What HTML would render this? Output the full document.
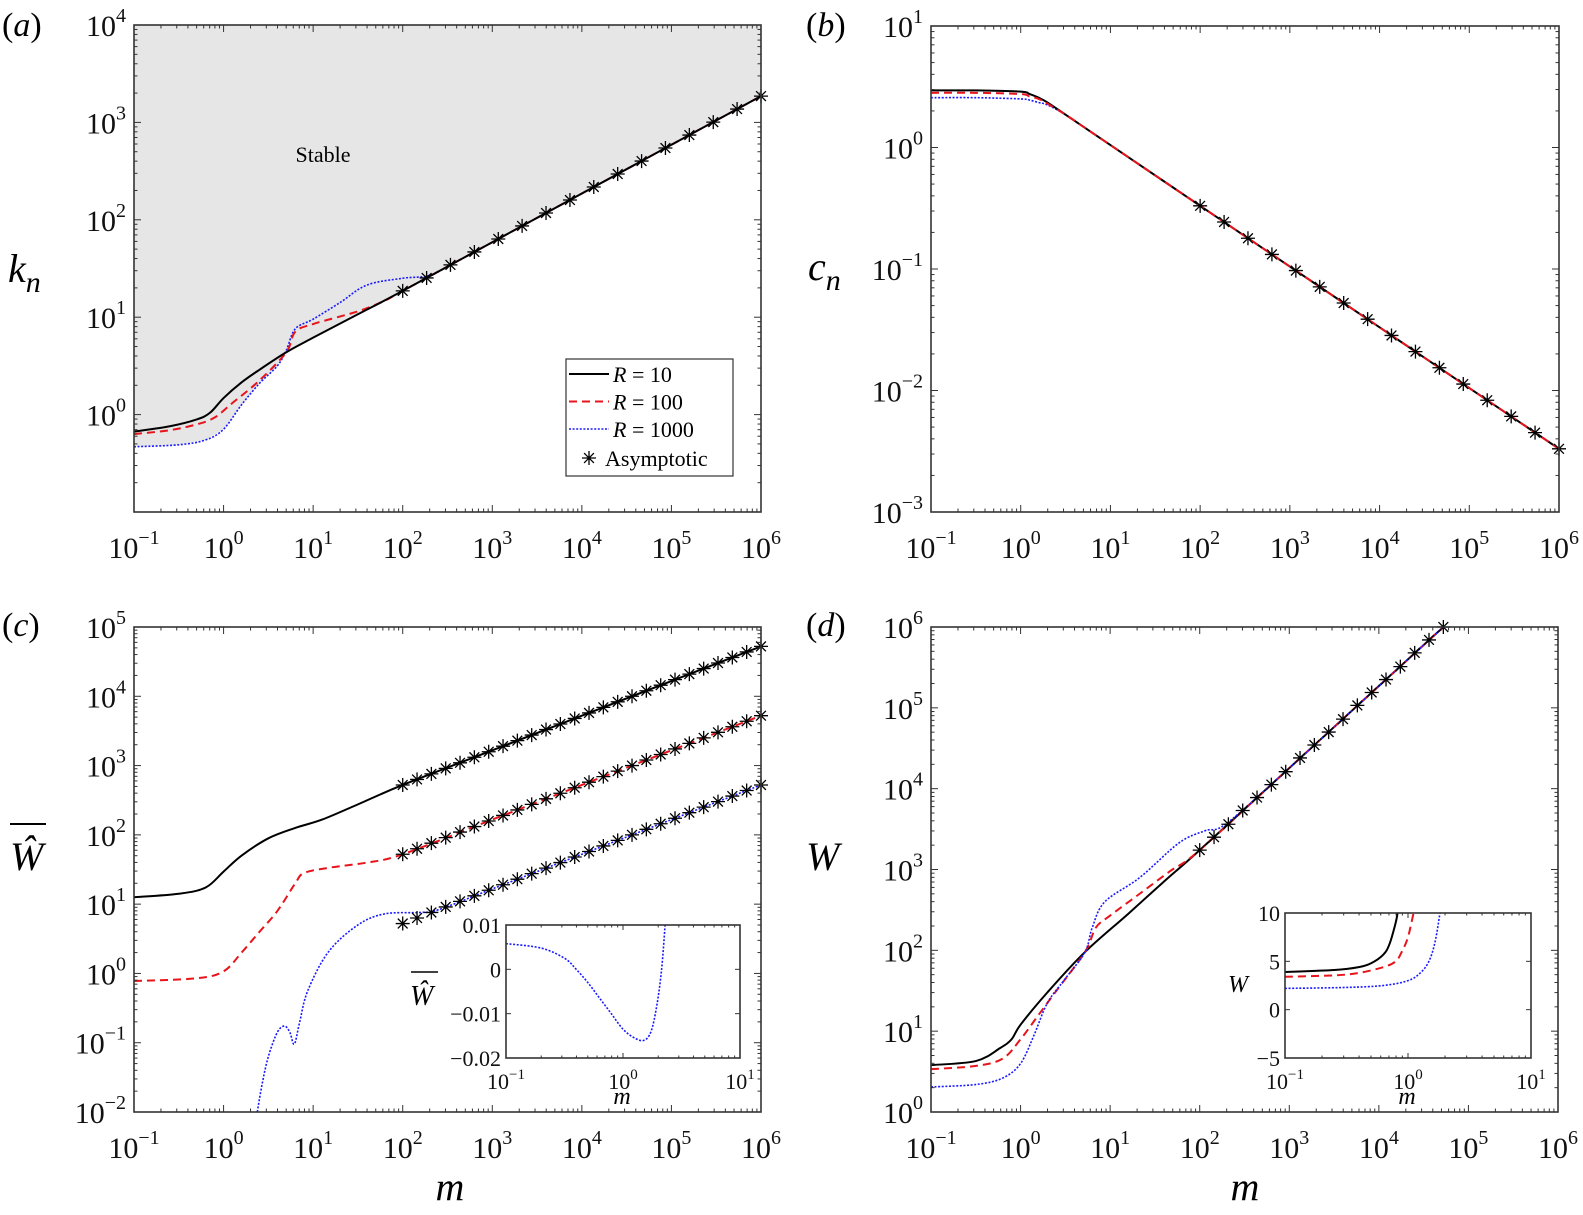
<!DOCTYPE html>
<html><head><meta charset="utf-8"><title>Stability figure</title>
<style>
html,body{margin:0;padding:0;background:#fff;}
svg, svg text{font-family:"Liberation Serif","Times New Roman",serif;}
</style></head>
<body>
<svg id="fig" width="1583" height="1210" viewBox="0 0 1583 1210" xmlns="http://www.w3.org/2000/svg" font-family="Liberation Serif, serif">
  <text x="2" y="36" font-size="34">(<tspan font-style="italic">a</tspan>)</text>
  <text x="806" y="36" font-size="34">(<tspan font-style="italic">b</tspan>)</text>
  <text x="2" y="636" font-size="34">(<tspan font-style="italic">c</tspan>)</text>
  <text x="806" y="636" font-size="34">(<tspan font-style="italic">d</tspan>)</text>

  <text x="8" y="282" font-size="40" font-style="italic">k<tspan font-size="30" dy="10">n</tspan></text>
  <text x="808" y="280" font-size="40" font-style="italic">c<tspan font-size="30" dy="10">n</tspan></text>
  <g>
    <text x="10" y="870" font-size="40" font-style="italic">Ŵ</text>
    <line x1="10" y1="824" x2="46" y2="824" stroke="#000" stroke-width="2"/>
  </g>
  <text x="806" y="870" font-size="40" font-style="italic">W</text>
  <text x="450" y="1200" font-size="40" font-style="italic" text-anchor="middle">m</text>
  <text x="1245" y="1200" font-size="40" font-style="italic" text-anchor="middle">m</text>
</svg>
<script>
// ---------------- DATA (log10 m, log10 value) ----------------
// Panel (a) k_n
const aR10x = [-1,-0.6,-0.3,-0.15,0,0.2,0.4,0.7,1,1.5,2,3,4,5,6];
const aR10y = [-0.175,-0.12,-0.05,0.02,0.17,0.33,0.46,0.64,0.79,1.03,1.27,1.77,2.27,2.77,3.27];
const aR100x = [-1,-0.6,-0.3,-0.1,0.1,0.4,0.7,0.8,1,1.5,1.8,2,3,4,5,6];
const aR100y = [-0.2,-0.16,-0.1,-0.03,0.12,0.35,0.64,0.85,0.93,1.06,1.17,1.27,1.77,2.27,2.77,3.27];
const aR1000x = [-1,-0.5,-0.2,0,0.2,0.4,0.6,0.7,0.8,1,1.3,1.6,2,2.3,2.6,3,4,5,6];
const aR1000y = [-0.33,-0.31,-0.26,-0.15,0.1,0.32,0.5,0.66,0.88,0.98,1.15,1.33,1.4,1.43,1.57,1.77,2.27,2.77,3.27];
const aStarX = [2,2.267,2.533,2.8,3.067,3.333,3.6,3.867,4.133,4.4,4.667,4.933,5.2,5.467,5.733,6];
const aStarY = [1.27,1.403,1.537,1.67,1.803,1.937,2.07,2.203,2.337,2.47,2.603,2.737,2.87,3.003,3.137,3.27];
// Panel (b) c_n
const bR10x = [-1,-0.5,0,0.1,0.2,0.3,0.5,0.7,1,2,3,4,5,6];
const bR10y = [0.47,0.47,0.46,0.44,0.41,0.37,0.27,0.17,0.02,-0.48,-0.98,-1.48,-1.98,-2.48];
const bR100x = [-1,-0.5,0,0.1,0.2,0.3,0.5,0.7,1,2,3,4,5,6];
const bR100y = [0.45,0.45,0.44,0.42,0.4,0.36,0.27,0.17,0.02,-0.48,-0.98,-1.48,-1.98,-2.48];
const bR1000x = [-1,-0.5,0,0.1,0.2,0.3,0.5,0.7,1,2,3,4,5,6];
const bR1000y = [0.41,0.41,0.4,0.39,0.37,0.35,0.27,0.17,0.02,-0.48,-0.98,-1.48,-1.98,-2.48];
const bStarX = [2,2.267,2.533,2.8,3.067,3.333,3.6,3.867,4.133,4.4,4.667,4.933,5.2,5.467,5.733,6];
const bStarY = [-0.48,-0.613,-0.747,-0.88,-1.013,-1.147,-1.28,-1.413,-1.547,-1.68,-1.813,-1.947,-2.08,-2.213,-2.347,-2.48];
// Panel (c) mean W-hat
const cR10x = [-1,-0.5,-0.2,0,0.2,0.5,0.8,1.1,1.5,2,3,4,5,6];
const cR10y = [1.1,1.15,1.24,1.47,1.7,1.95,2.1,2.22,2.44,2.72,3.22,3.72,4.22,4.72];
const cR100x = [-1,-0.3,0,0.2,0.4,0.6,0.8,0.9,1.2,1.6,2,3,4,5,6];
const cR100y = [-0.11,-0.07,0.03,0.3,0.6,0.9,1.3,1.45,1.53,1.6,1.72,2.22,2.72,3.22,3.72];
const cR1000x = [0.37,0.43,0.5,0.6,0.68,0.74,0.79,0.85,0.94,1.17,1.5,1.8,2.2,2.4,3,4,5,6];
const cR1000y = [-2.05,-1.6,-1.2,-0.85,-0.76,-0.85,-1.02,-0.7,-0.25,0.31,0.7,0.86,0.88,0.92,1.22,1.72,2.22,2.72];
const cStarX = [2,2.16,2.32,2.48,2.64,2.8,2.96,3.12,3.28,3.44,3.6,3.76,3.92,4.08,4.24,4.4,4.56,4.72,4.88,5.04,5.2,5.36,5.52,5.68,5.84,6];
const cStarY10 = [2.72,2.8,2.88,2.96,3.04,3.12,3.2,3.28,3.36,3.44,3.52,3.6,3.68,3.76,3.84,3.92,4,4.08,4.16,4.24,4.32,4.4,4.48,4.56,4.64,4.72];
const cStarY100 = [1.72,1.8,1.88,1.96,2.04,2.12,2.2,2.28,2.36,2.44,2.52,2.6,2.68,2.76,2.84,2.92,3,3.08,3.16,3.24,3.32,3.4,3.48,3.56,3.64,3.72];
const cStarY1000 = [0.72,0.8,0.88,0.96,1.04,1.12,1.2,1.28,1.36,1.44,1.52,1.6,1.68,1.76,1.84,1.92,2,2.08,2.16,2.24,2.32,2.4,2.48,2.56,2.64,2.72];
// Inset (c): log10 m, linear value
const ciX = [-1,-0.7,-0.5,-0.4,-0.3,-0.2,-0.1,0,0.1,0.18,0.24,0.29,0.33,0.36];
const ciY = [0.0058,0.0048,0.0025,0,-0.003,-0.0065,-0.01,-0.0135,-0.0155,-0.016,-0.014,-0.008,0,0.01];
// Panel (d) W
const dR10x = [-1,-0.5,-0.23,-0.1,0,0.3,0.72,1.2,1.6,2,3,4,4.72];
const dR10y = [0.58,0.63,0.79,0.9,1.08,1.48,1.98,2.45,2.85,3.24,4.255,5.27,6.0];
const dR100x = [-1,-0.5,-0.2,0,0.2,0.4,0.72,0.84,1.0,1.33,1.67,2,3,4,4.72];
const dR100y = [0.53,0.57,0.66,0.9,1.2,1.5,1.98,2.28,2.43,2.7,2.98,3.24,4.255,5.27,6.0];
const dR1000x = [-1,-0.5,-0.2,0,0.15,0.3,0.5,0.72,0.8,0.94,1.33,1.77,2.06,2.3,3,4,4.72];
const dR1000y = [0.31,0.34,0.42,0.6,0.95,1.35,1.65,1.98,2.28,2.6,2.9,3.33,3.48,3.57,4.255,5.27,6.0];
const dStarX = [2,2.16,2.32,2.48,2.64,2.8,2.96,3.12,3.28,3.44,3.6,3.76,3.92,4.08,4.24,4.4,4.56,4.72];
const dStarY = [3.24,3.4,3.56,3.73,3.89,4.05,4.21,4.38,4.54,4.7,4.86,5.03,5.19,5.35,5.51,5.68,5.84,6.0];
// Inset (d): log10 m, linear W
const diR10x = [-1,-0.6,-0.4,-0.3,-0.2,-0.15,-0.1,-0.085];
const diR10y = [3.9,4.1,4.4,4.8,5.7,6.8,9,10];
const diR100x = [-1,-0.6,-0.4,-0.2,-0.1,-0.05,0,0.045];
const diR100y = [3.4,3.55,3.8,4.4,5.0,6,7.5,10];
const diR1000x = [-1,-0.5,-0.2,0,0.1,0.17,0.22,0.26];
const diR1000y = [2.2,2.3,2.5,3.0,3.8,5,7,10];

// ---------------- RENDERING ----------------
const NS = "http://www.w3.org/2000/svg";
const fig = document.getElementById('fig');
function mk(tag, attrs, name, parent) {
  const el = document.createElementNS(NS, tag);
  for (const k in attrs) el.setAttribute(k, attrs[k]);
  
  
  parent.appendChild(el);
  return el;
}
function makeAxes(box, xr, yr) {
  return {
    box: box,
    sx: v => box[0] + (v - xr[0]) / (xr[1] - xr[0]) * (box[2] - box[0]),
    sy: v => box[3] - (v - yr[0]) / (yr[1] - yr[0]) * (box[3] - box[1])
  };
}
function smoothPath(pts) {
  let d = 'M' + pts[0][0].toFixed(2) + ',' + pts[0][1].toFixed(2);
  for (let i = 0; i < pts.length - 1; i++) {
    const p0 = pts[Math.max(0, i - 1)], p1 = pts[i], p2 = pts[i + 1], p3 = pts[Math.min(pts.length - 1, i + 2)];
    const c1 = [p1[0] + (p2[0] - p0[0]) / 6, p1[1] + (p2[1] - p0[1]) / 6];
    const c2 = [p2[0] - (p3[0] - p1[0]) / 6, p2[1] - (p3[1] - p1[1]) / 6];
    d += ' C' + c1[0].toFixed(2) + ',' + c1[1].toFixed(2) + ' ' + c2[0].toFixed(2) + ',' + c2[1].toFixed(2) + ' ' + p2[0].toFixed(2) + ',' + p2[1].toFixed(2);
  }
  return d;
}
function curve(ax, xs, ys, style, name, parent, clipId) {
  const pts = xs.map((x, i) => [ax.sx(x), ax.sy(ys[i])]);
  const attrs = {d: smoothPath(pts), fill: 'none', stroke: style.c, 'stroke-width': style.w};
  if (style.dash) attrs['stroke-dasharray'] = style.dash;
  if (clipId) attrs['clip-path'] = 'url(#' + clipId + ')';
  return mk('path', attrs, name, parent);
}
function stars(ax, xs, ys, name, parent) {
  const g = mk('g', {stroke: '#000', 'stroke-width': 1.3}, name, parent);
  xs.forEach((x, i) => {
    const cx = ax.sx(x), cy = ax.sy(ys[i]), r = 7;
    mk('path', {d: `M${cx - r},${cy}H${cx + r}M${cx},${cy - r}V${cy + r}M${cx - r * 0.7},${cy - r * 0.7}L${cx + r * 0.7},${cy + r * 0.7}M${cx - r * 0.7},${cy + r * 0.7}L${cx + r * 0.7},${cy - r * 0.7}`}, 'asymptotic-marker', g);
  });
  return g;
}
function pow10Label(x, y, exp, fs, anchor, name, parent) {
  const t = mk('text', {x: x, y: y, 'font-size': fs, 'text-anchor': anchor}, name, parent);
  t.appendChild(document.createTextNode('10'));
  const sup = document.createElementNS(NS, 'tspan');
  sup.setAttribute('font-size', Math.round(fs * 0.68));
  sup.setAttribute('dy', -Math.round(fs * 0.45));
  sup.textContent = exp < 0 ? '\u2212' + (-exp) : String(exp);
  t.appendChild(sup);
  return t;
}
function frameAndTicks(ax, xr, yr, opts, parent) {
  const b = ax.box;
  const g = mk('g', {stroke: '#333', 'stroke-width': 1}, opts.name + '-ticks', parent);
  const L = opts.tick || 7, l = (opts.tick || 7) / 2;
  for (let e = xr[0]; e <= xr[1]; e++) {
    const x = ax.sx(e);
    mk('line', {x1: x, y1: b[3], x2: x, y2: b[3] - L}, 'x-major-tick', g);
    mk('line', {x1: x, y1: b[1], x2: x, y2: b[1] + L}, 'x-major-tick-top', g);
    if (e < xr[1]) for (let k = 2; k <= 9; k++) {
      const xm = ax.sx(e + Math.log10(k));
      mk('line', {x1: xm, y1: b[3], x2: xm, y2: b[3] - l}, 'x-minor-tick', g);
      mk('line', {x1: xm, y1: b[1], x2: xm, y2: b[1] + l}, 'x-minor-tick-top', g);
    }
  }
  if (opts.ylog) {
    for (let e = yr[0]; e <= yr[1]; e++) {
      const y = ax.sy(e);
      mk('line', {x1: b[0], y1: y, x2: b[0] + L, y2: y}, 'y-major-tick', g);
      mk('line', {x1: b[2], y1: y, x2: b[2] - L, y2: y}, 'y-major-tick-right', g);
      if (e < yr[1]) for (let k = 2; k <= 9; k++) {
        const ym = ax.sy(e + Math.log10(k));
        mk('line', {x1: b[0], y1: ym, x2: b[0] + l, y2: ym}, 'y-minor-tick', g);
        mk('line', {x1: b[2], y1: ym, x2: b[2] - l, y2: ym}, 'y-minor-tick-right', g);
      }
    }
  } else {
    opts.yticks.forEach(v => {
      const y = ax.sy(v);
      mk('line', {x1: b[0], y1: y, x2: b[0] + L, y2: y}, 'y-major-tick', g);
      mk('line', {x1: b[2], y1: y, x2: b[2] - L, y2: y}, 'y-major-tick-right', g);
    });
  }
  mk('rect', {x: b[0], y: b[1], width: b[2] - b[0], height: b[3] - b[1], fill: 'none', stroke: '#333', 'stroke-width': 1.6}, opts.name + '-frame', parent);
  const fs = opts.fs || 30;
  const lg = mk('g', {fill: '#111'}, opts.name + '-tick-labels', parent);
  for (let e = xr[0]; e <= xr[1]; e++) {
    pow10Label(ax.sx(e), b[3] + (opts.xlOff || 46), e, fs, 'middle', 'x-tick-label', lg);
  }
  if (opts.ylog) {
    for (let e = yr[0]; e <= yr[1]; e++) {
      if (opts.skipY && opts.skipY.includes(e)) continue;
      pow10Label(b[0] - 8, ax.sy(e) + 11, e, fs, 'end', 'y-tick-label', lg);
    }
  } else {
    opts.yticks.forEach((v, i) => {
      mk('text', {x: b[0] - 5, y: ax.sy(v) + 8, 'font-size': fs, 'text-anchor': 'end'}, 'y-tick-label', lg).textContent = opts.ylabels[i];
    });
  }
}
function clip(id, box) {
  let defs = fig.querySelector('defs');
  if (!defs) { defs = document.createElementNS(NS, 'defs'); fig.insertBefore(defs, fig.firstChild); }
  const cp = document.createElementNS(NS, 'clipPath');
  cp.setAttribute('id', id);
  const r = document.createElementNS(NS, 'rect');
  r.setAttribute('x', box[0]); r.setAttribute('y', box[1]);
  r.setAttribute('width', box[2] - box[0]); r.setAttribute('height', box[3] - box[1]);
  cp.appendChild(r); defs.appendChild(cp);
}
const S10 = {c: '#000', w: 2};
const S100 = {c: '#e8141b', w: 2, dash: '8,5'};
const S1000 = {c: '#1a1aff', w: 1.6, dash: '2,1.6'};

// ---- Panel A ----
(function () {
  const box = [134, 25, 761, 512], xr = [-1, 6], yr = [-1, 4];
  const ax = makeAxes(box, xr, yr);
  const g = mk('g', {}, 'panel-a', fig);
  clip('clipA', box);
  const n = 140, pts = [];
  function interp(xs, ys, x) { for (let i = 0; i < xs.length - 1; i++) if (x <= xs[i + 1]) { const t = (x - xs[i]) / (xs[i + 1] - xs[i]); return ys[i] + t * (ys[i + 1] - ys[i]); } return ys[ys.length - 1]; }
  for (let i = 0; i <= n; i++) {
    const x = xr[0] + (xr[1] - xr[0]) * i / n;
    const y = Math.min(interp(aR10x, aR10y, x), interp(aR100x, aR100y, x), interp(aR1000x, aR1000y, x));
    pts.push([ax.sx(x), ax.sy(y)]);
  }
  const d = 'M' + box[0] + ',' + box[1] + ' L' + pts.map(p => p[0].toFixed(1) + ',' + p[1].toFixed(1)).join(' L') + ' L' + box[2] + ',' + box[1] + 'Z';
  mk('path', {d: d, fill: '#e6e6e6', stroke: 'none'}, 'stable-region', g);
  mk('text', {x: 323, y: 162, 'font-size': 22, 'text-anchor': 'middle'}, 'stable-region-label', g).textContent = 'Stable';
  curve(ax, aR1000x, aR1000y, S1000, 'curve-r1000', g, 'clipA');
  curve(ax, aR100x, aR100y, S100, 'curve-r100', g, 'clipA');
  curve(ax, aR10x, aR10y, S10, 'curve-r10', g, 'clipA');
  stars(ax, aStarX, aStarY, 'asymptotic-series', g);
  frameAndTicks(ax, xr, yr, {name: 'panel-a', ylog: true, skipY: [-1]}, g);
  const lg = mk('g', {}, 'legend', g);
  mk('rect', {x: 566, y: 359, width: 167, height: 117, fill: '#fff', stroke: '#333', 'stroke-width': 1.2}, 'legend-box', lg);
  const ent = [[S10, '10'], [S100, '100'], [S1000, '1000']];
  ent.forEach((e, i) => {
    const y = 374 + i * 27.5;
    const a = {x1: 569, y1: y, x2: 609, y2: y, stroke: e[0].c, 'stroke-width': e[0].w};
    if (e[0].dash) a['stroke-dasharray'] = e[0].dash;
    mk('line', a, 'legend-swatch', lg);
    const t = mk('text', {x: 613, y: y + 8, 'font-size': 22}, 'legend-entry', lg);
    t.innerHTML = '<tspan font-style="italic">R</tspan> = ' + e[1];
  });
  stars(makeAxes([0, 0, 1, 1], [0, 1], [0, 1]), [589], [-457], 'legend-star', lg);
  mk('text', {x: 605, y: 466, 'font-size': 22}, 'legend-entry', lg).textContent = 'Asymptotic';
})();

// ---- Panel B ----
(function () {
  const box = [931, 26, 1559, 512], xr = [-1, 6], yr = [-3, 1];
  const ax = makeAxes(box, xr, yr);
  const g = mk('g', {}, 'panel-b', fig);
  clip('clipB', box);
  curve(ax, bR1000x, bR1000y, S1000, 'curve-r1000', g, 'clipB');
  curve(ax, bR10x, bR10y, S10, 'curve-r10', g, 'clipB');
  curve(ax, bR100x, bR100y, S100, 'curve-r100', g, 'clipB');
  stars(ax, bStarX, bStarY, 'asymptotic-series', g);
  frameAndTicks(ax, xr, yr, {name: 'panel-b', ylog: true}, g);
})();

// ---- Panel C ----
(function () {
  const box = [134, 627, 761, 1112], xr = [-1, 6], yr = [-2, 5];
  const ax = makeAxes(box, xr, yr);
  const g = mk('g', {}, 'panel-c', fig);
  clip('clipC', box);
  curve(ax, cR10x, cR10y, S10, 'curve-r10', g, 'clipC');
  curve(ax, cR100x, cR100y, S100, 'curve-r100', g, 'clipC');
  curve(ax, cR1000x, cR1000y, S1000, 'curve-r1000', g, 'clipC');
  stars(ax, cStarX, cStarY10, 'asymptotic-series-r10', g);
  stars(ax, cStarX, cStarY100, 'asymptotic-series-r100', g);
  stars(ax, cStarX, cStarY1000, 'asymptotic-series-r1000', g);
  frameAndTicks(ax, xr, yr, {name: 'panel-c', ylog: true}, g);
  const ib = [506, 925, 740, 1058];
  const ia = makeAxes(ib, [-1, 1], [-0.02, 0.01]);
  const ig = mk('g', {}, 'inset-c', g);
  mk('rect', {x: ib[0], y: ib[1], width: ib[2] - ib[0], height: ib[3] - ib[1], fill: '#fff'}, 'inset-background', ig);
  clip('clipCI', ib);
  curve(ia, ciX, ciY, S1000, 'inset-curve-r1000', ig, 'clipCI');
  frameAndTicks(ia, [-1, 1], [-0.02, 0.01], {name: 'inset-c', ylog: false, yticks: [0.01, 0, -0.01, -0.02], ylabels: ['0.01', '0', '\u22120.01', '\u22120.02'], fs: 22, tick: 5, xlOff: 31}, ig);
  mk('text', {x: 622, y: 1104, 'font-size': 24, 'font-style': 'italic', 'text-anchor': 'middle'}, 'inset-x-title', ig).textContent = 'm';
  const yt = mk('g', {}, 'inset-y-title', ig);
  mk('text', {x: 410, y: 1005, 'font-size': 28, 'font-style': 'italic'}, 'inset-y-title-text', yt).textContent = 'Ŵ';
  mk('line', {x1: 411, y1: 972, x2: 438, y2: 972, stroke: '#000', 'stroke-width': 1.6}, 'inset-y-title-bar', yt);
})();

// ---- Panel D ----
(function () {
  const box = [931, 627, 1558, 1112], xr = [-1, 6], yr = [0, 6];
  const ax = makeAxes(box, xr, yr);
  const g = mk('g', {}, 'panel-d', fig);
  clip('clipD', box);
  curve(ax, dR10x, dR10y, S10, 'curve-r10', g, 'clipD');
  curve(ax, dR100x, dR100y, S100, 'curve-r100', g, 'clipD');
  curve(ax, dR1000x, dR1000y, S1000, 'curve-r1000', g, 'clipD');
  stars(ax, dStarX, dStarY, 'asymptotic-series', g);
  frameAndTicks(ax, xr, yr, {name: 'panel-d', ylog: true}, g);
  const ib = [1285, 913, 1531, 1058];
  const ia = makeAxes(ib, [-1, 1], [-5, 10]);
  const ig = mk('g', {}, 'inset-d', g);
  mk('rect', {x: ib[0], y: ib[1], width: ib[2] - ib[0], height: ib[3] - ib[1], fill: '#fff'}, 'inset-background', ig);
  clip('clipDI', ib);
  curve(ia, diR10x, diR10y, S10, 'inset-curve-r10', ig, 'clipDI');
  curve(ia, diR100x, diR100y, S100, 'inset-curve-r100', ig, 'clipDI');
  curve(ia, diR1000x, diR1000y, S1000, 'inset-curve-r1000', ig, 'clipDI');
  frameAndTicks(ia, [-1, 1], [-5, 10], {name: 'inset-d', ylog: false, yticks: [10, 5, 0, -5], ylabels: ['10', '5', '0', '\u22125'], fs: 22, tick: 5, xlOff: 31}, ig);
  mk('text', {x: 1407, y: 1104, 'font-size': 24, 'font-style': 'italic', 'text-anchor': 'middle'}, 'inset-x-title', ig).textContent = 'm';
  mk('text', {x: 1228, y: 992, 'font-size': 24, 'font-style': 'italic'}, 'inset-y-title', ig).textContent = 'W';
})();
</script>
</body></html>
